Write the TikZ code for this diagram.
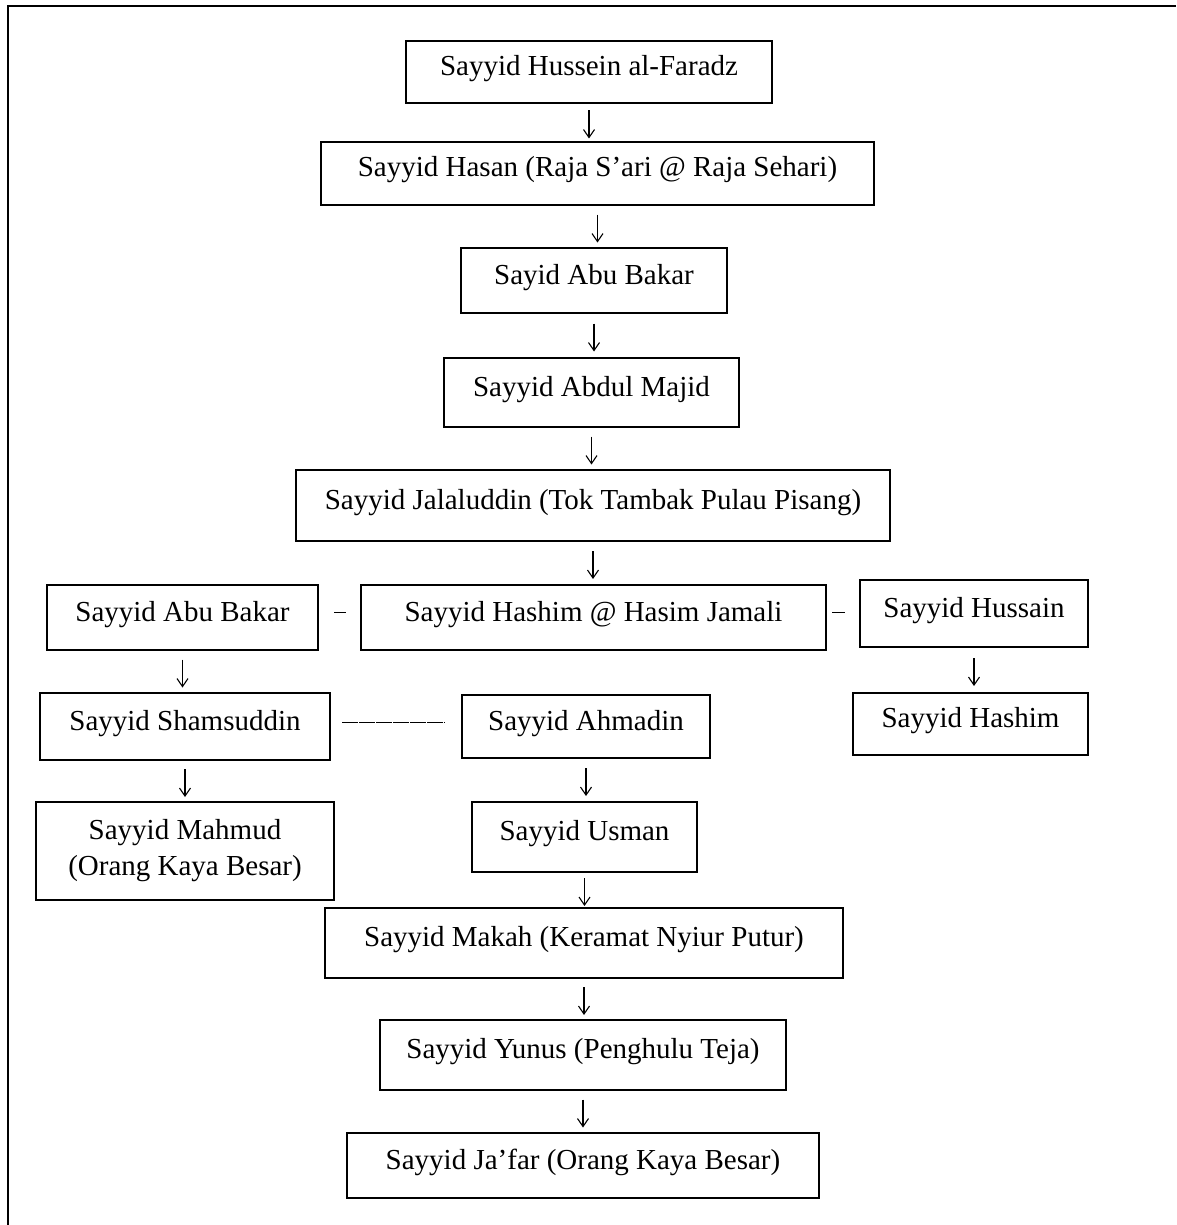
\documentclass[tikz,border=0pt]{standalone}
\usepackage{fontspec}
\setmainfont{Liberation Serif}
\usetikzlibrary{arrows.meta,calc}
\tikzset{
  box/.style={draw=black, line width=1.6pt, inner sep=0pt, outer sep=0pt, align=center,
    font=\fontsize{29}{36}\selectfont},
  one/.style={text height=20pt, text depth=13pt},
  arr/.style={line width=1.1pt, -{Straight Barb[length=8pt,width=11pt,line width=1.1pt]}},
  dashln/.style={line width=1.3pt},
  frame/.style={line width=2.4pt}
}
\newcommand\mybox[7][one]{%
  \node[box,#1, minimum width={#4pt-#3pt}, minimum height={#6pt-#5pt}] (#2) at ({(#3+#4)/2},{(#5+#6)/2}) {#7};}
\begin{document}
\begin{tikzpicture}[x=1pt,y=-1pt]
\useasboundingbox (0,0) rectangle (1176,1225);
\coordinate (ftl) at (8,6);
\coordinate (ftr) at (1176,6);
\coordinate (fbl) at (8,1225);
\draw[frame] (ftr) -- (ftl) -- (fbl);

\mybox{b1}{406}{772}{41}{103}{Sayyid Hussein al-Faradz}
\mybox{b2}{321}{874}{142}{205}{Sayyid Hasan (Raja S’ari @ Raja Sehari)}
\mybox{b3}{461}{727}{248}{313}{Sayid Abu Bakar}
\mybox{b4}{444}{739}{358}{427}{Sayyid Abdul Majid}
\mybox{b5}{296}{890}{470}{541}{Sayyid Jalaluddin (Tok Tambak Pulau Pisang)}
\mybox{r6a}{47}{318}{585}{650}{Sayyid Abu Bakar}
\mybox{r6b}{361}{826}{585}{650}{Sayyid Hashim @ Hasim Jamali}
\mybox{r6c}{860}{1088}{580}{647}{Sayyid Hussain}
\mybox{r7a}{40}{330}{693}{760}{Sayyid Shamsuddin}
\mybox{r7b}{462}{710}{695}{758}{Sayyid Ahmadin}
\mybox{r7c}{853}{1088}{693}{755}{Sayyid Hashim}
\mybox[]{r8a}{36}{334}{802}{900}{Sayyid Mahmud\\(Orang Kaya Besar)}
\mybox{r8b}{472}{697}{802}{872}{Sayyid Usman}
\mybox{b9}{325}{843}{908}{978}{Sayyid Makah (Keramat Nyiur Putur)}
\mybox{b10}{380}{786}{1020}{1090}{Sayyid Yunus (Penghulu Teja)}
\mybox{b11}{347}{819}{1133}{1198}{Sayyid Ja’far (Orang Kaya Besar)}

\foreach \a/\b in {b1/b2,b2/b3,b3/b4,b4/b5,b5/r6b,r6a/r7a,r6c/r7c,r7a/r8a,r7b/r8b,r8b/b9,b9/b10,b10/b11}
  \draw[arr] let \p1=(\a.south), \p2=(\a.south |- \b.north), \p3=($(\p1)!0.5!(\p2)$)
    in (\x3,\y3+12pt) -- (\x3,\y3-16pt);

\draw[dashln, shorten <=16pt, shorten >=15pt] ([yshift=5pt]r6a.east) -- ([yshift=5pt]r6b.west);
\draw[dashln, shorten <=6pt, shorten >=15pt] ([yshift=5pt]r6b.east) -- ([yshift=5pt]r6b.east -| r6c.west);
\draw[dashln, dash pattern=on 16pt off 1pt, shorten <=12pt, shorten >=17pt] ([yshift=4pt]r7a.east) -- ([yshift=4pt]r7a.east -| r7b.west);
\end{tikzpicture}
\end{document}
